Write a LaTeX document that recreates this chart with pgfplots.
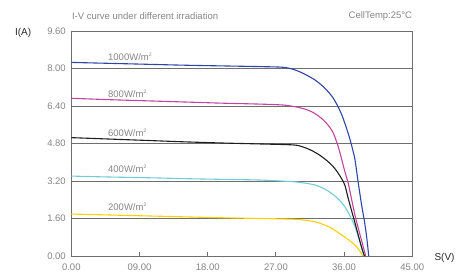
\documentclass[border=0pt]{standalone}
\usepackage{pgfplots}
\pgfplotsset{compat=1.18}
\usepackage{fontspec}
\setmainfont{Liberation Sans}
\definecolor{cblue}{HTML}{2E45A8}
\definecolor{cpink}{HTML}{C2449C}
\definecolor{cblack}{HTML}{1E1E1E}
\definecolor{ccyan}{HTML}{72CCD8}
\definecolor{cyellow}{HTML}{FFD000}
\definecolor{txtgray}{HTML}{858585}
\definecolor{axgray}{HTML}{6E6E6E}
\begin{document}
\begin{tikzpicture}[x=1pt,y=1pt]
\useasboundingbox (-71.3,-22) rectangle (388.7,256);
\begin{axis}[
  at={(0,0)}, anchor=origin,
  scale only axis, width=341pt, height=225pt,
  xmin=0, xmax=45, ymin=0, ymax=9.6,
  xtick={0,9,18,27,36,45},
  xticklabels={0.00,09.00,18.00,27.00,36.00,45.00},
  ytick={0,1.6,3.2,4.8,6.4,8.0,9.6},
  yticklabels={0.00,1.60,3.20,4.80,6.40,8.00,9.60},
  ymajorgrids, grid style={axgray, line width=0.8pt},
  axis line style={axgray, line width=0.8pt},
  tick style={axgray, line width=0.8pt},
  xtick pos=bottom, ytick style={draw=none},
  major tick length=3.5pt, tick align=inside,
  ticklabel style={font=\fontsize{9.5}{11}\selectfont, text=txtgray},
  xticklabel style={yshift=-4pt},
  yticklabel style={xshift=-2pt},
  clip=false,
]
\addplot[cyellow, line width=1.1pt, smooth, tension=0.5] coordinates {
(0,1.79) (5,1.75) (10,1.71) (15,1.67) (20,1.63) (25,1.60) (29.26,1.57) (30.8,1.53) (32.16,1.46) (33.3,1.34) (34.36,1.18) (35.4,0.96) (36.3,0.76) (37.0,0.59) (37.5,0.45) (38.0,0.25) (38.45,0)};
\addplot[ccyan, line width=1.1pt, smooth, tension=0.5] coordinates {
(0,3.41) (5,3.37) (10,3.34) (15,3.30) (20,3.27) (25,3.24) (29.26,3.17) (30.8,3.11) (32.16,3.03) (33.3,2.88) (34.36,2.67) (35.3,2.41) (36.1,2.10) (36.8,1.70) (37.44,1.25) (37.9,0.80) (38.3,0.40) (38.6,0)};
\addplot[cblack, line width=1.1pt, smooth, tension=0.5] coordinates {
(0,5.05) (5,4.99) (10,4.93) (15,4.87) (20,4.82) (25,4.78) (29.26,4.74) (30.5,4.66) (31.6,4.52) (32.7,4.32) (33.8,4.05) (34.6,3.80) (35.23,3.53) (35.7,3.28) (36.1,3.02) (36.55,2.45) (37.0,1.92) (37.45,1.40) (37.9,0.85) (38.35,0.32) (38.7,0)};
\addplot[cpink, line width=1.1pt, smooth, tension=0.5] coordinates {
(0,6.73) (5,6.67) (10,6.62) (15,6.57) (20,6.52) (25,6.48) (28,6.44) (29.5,6.37) (30.6,6.29) (31.7,6.16) (32.6,5.98) (33.5,5.73) (34.1,5.49) (34.6,5.23) (35.23,4.66) (35.7,4.10) (36.1,3.60) (36.55,3.10) (37.0,2.40) (37.5,1.65) (37.9,1.15) (38.4,0.55) (38.85,0)};
\addplot[cblue, line width=1.1pt, smooth, tension=0.5] coordinates {
(0,8.26) (5,8.22) (10,8.18) (15,8.14) (20,8.11) (25,8.08) (28,8.05) (29.5,7.94) (30.8,7.76) (32.16,7.51) (33.1,7.27) (33.9,7.01) (34.6,6.72) (35.2,6.37) (35.7,6.02) (36.1,5.66) (36.5,5.27) (36.8,4.95) (37.15,4.52) (37.44,4.10) (37.87,3.12) (38.3,2.20) (38.7,1.45) (39.0,0.75) (39.25,0)};
\def\lbl#1{\fontsize{9.5}{11}\selectfont\color{txtgray}#1W/m\textsuperscript{\fontsize{5}{5}\selectfont 2}}
\node[anchor=west, inner sep=0pt] at (axis cs:4.84,8.50) {\lbl{1000}};
\node[anchor=west, inner sep=0pt] at (axis cs:4.84,6.91) {\lbl{800}};
\node[anchor=west, inner sep=0pt] at (axis cs:4.84,5.26) {\lbl{600}};
\node[anchor=west, inner sep=0pt] at (axis cs:4.84,3.71) {\lbl{400}};
\node[anchor=west, inner sep=0pt] at (axis cs:4.84,2.09) {\lbl{200}};
\end{axis}
\node[anchor=west, inner sep=0pt, font=\fontsize{9.5}{11}\selectfont, text=txtgray] at (0.5,240) {I-V curve under different irradiation};
\node[anchor=east, inner sep=0pt, font=\fontsize{9.5}{11}\selectfont, text=txtgray] at (341,240) {CellTemp:25°C};
\node[anchor=west, inner sep=0pt, font=\fontsize{10}{11}\selectfont, text=black!85] at (-56.5,223) {I(A)};
\node[anchor=west, inner sep=0pt, font=\fontsize{10}{11}\selectfont, text=black!85] at (363,-2) {S(V)};
\end{tikzpicture}
\end{document}
